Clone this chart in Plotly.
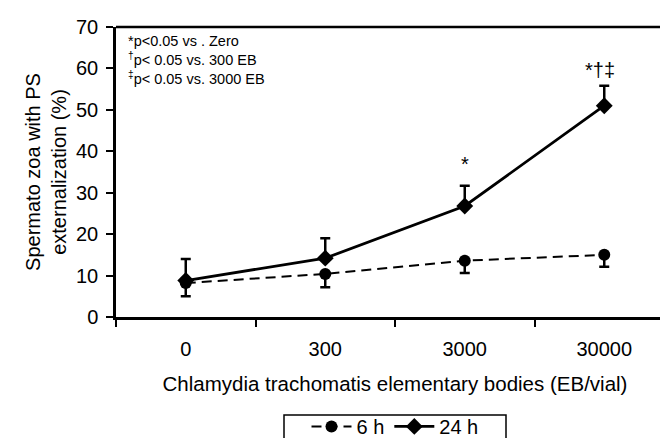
import plotly.graph_objects as go

categories = ["0", "300", "3000", "30000"]
h6_values = [8.2, 10.4, 13.6, 15.0]
h6_err_minus = [3.2, 3.2, 3.0, 2.9]
h24_values = [8.8, 14.2, 26.8, 51.0]
h24_err_plus = [5.2, 4.8, 4.9, 4.8]
sig_labels = ["", "", "*", "*†‡"]
sig_y = [None, None, 37.0, 59.6]
y_ticks = [0, 10, 20, 30, 40, 50, 60, 70]
legend_note = "*p<0.05 vs . Zero<br><sup>†</sup>p< 0.05 vs. 300 EB<br><sup>‡</sup>p< 0.05 vs. 3000 EB"

FONT = "Liberation Sans, Arial, sans-serif"

fig = go.Figure()
fig.add_trace(go.Scatter(
    x=categories, y=h6_values, name="6 h", mode="lines+markers",
    line=dict(color="black", width=2, dash="10px,6px"),
    marker=dict(symbol="circle", size=12, color="black"),
    error_y=dict(type="data", symmetric=False, array=[0] * 4, arrayminus=h6_err_minus,
                 color="black", thickness=2.5, width=5),
))
fig.add_trace(go.Scatter(
    x=categories, y=h24_values, name="24 h", mode="lines+markers",
    line=dict(color="black", width=2.8),
    marker=dict(symbol="diamond", size=13, color="black"),
    error_y=dict(type="data", symmetric=False, array=h24_err_plus, arrayminus=[0] * 4,
                 color="black", thickness=2.5, width=5),
))

for i, (lab, yv) in enumerate(zip(sig_labels, sig_y)):
    if lab:
        fig.add_annotation(x=i, y=yv, xref="x", yref="y", text=lab, showarrow=False,
                           font=dict(family=FONT, size=20, color="black"),
                           xanchor="center", yanchor="middle",
                           xshift=-4 if len(lab) > 1 else 0)

fig.add_annotation(x=0.018, y=0.987, xref="paper", yref="paper", text=legend_note,
                   showarrow=False, align="left", xanchor="left", yanchor="top",
                   font=dict(family=FONT, size=14.5, color="black"))

# top frame line and thin right frame line
fig.add_shape(type="line", xref="paper", yref="paper", x0=0, x1=1, y0=1, y1=1,
              line=dict(color="black", width=2.5))
fig.add_shape(type="line", xref="paper", yref="paper", x0=1, x1=1, y0=0, y1=1,
              line=dict(color="#444", width=1))
# legend frame box (bottom is cut by the picture edge, as in the reference)
fig.add_shape(type="rect", xref="paper", yref="paper",
              x0=(276 - 108) / 558, x1=(498 - 108) / 558,
              y0=(309 - 445) / 290, y1=(309 - 407) / 290,
              line=dict(color="black", width=1.5), fillcolor="rgba(0,0,0,0)")

fig.update_layout(
    width=668, height=438,
    margin=dict(l=108, r=2, t=19, b=129, autoexpand=False),
    paper_bgcolor="white", plot_bgcolor="white",
    font=dict(family=FONT, size=20, color="black"),
    showlegend=True,
    legend=dict(orientation="h", x=0.5, xanchor="center", y=-0.31, yanchor="top",
                borderwidth=0, bgcolor="rgba(0,0,0,0)", font=dict(size=20),
                tracegroupgap=0, itemwidth=40),
    xaxis=dict(type="category", range=[-0.5, 3.5], showline=True, linecolor="black",
               linewidth=2.5, ticks="outside", tickson="boundaries", ticklen=7,
               tickwidth=2, tickcolor="black", showgrid=False, zeroline=False,
               ticklabelstandoff=12,
               title=dict(text="Chlamydia trachomatis elementary bodies (EB/vial)",
                          font=dict(size=20.5), standoff=18)),
    yaxis=dict(range=[0, 70], tickvals=y_ticks, showline=True, linecolor="black",
               linewidth=2.5, ticks="outside", ticklen=7, tickwidth=2, tickcolor="black",
               showgrid=False, zeroline=False, ticklabelstandoff=4,
               title=dict(text="Spermato zoa with PS<br>externalization (%)",
                          font=dict(size=20), standoff=5)),
)

fig.write_html("out.html")
